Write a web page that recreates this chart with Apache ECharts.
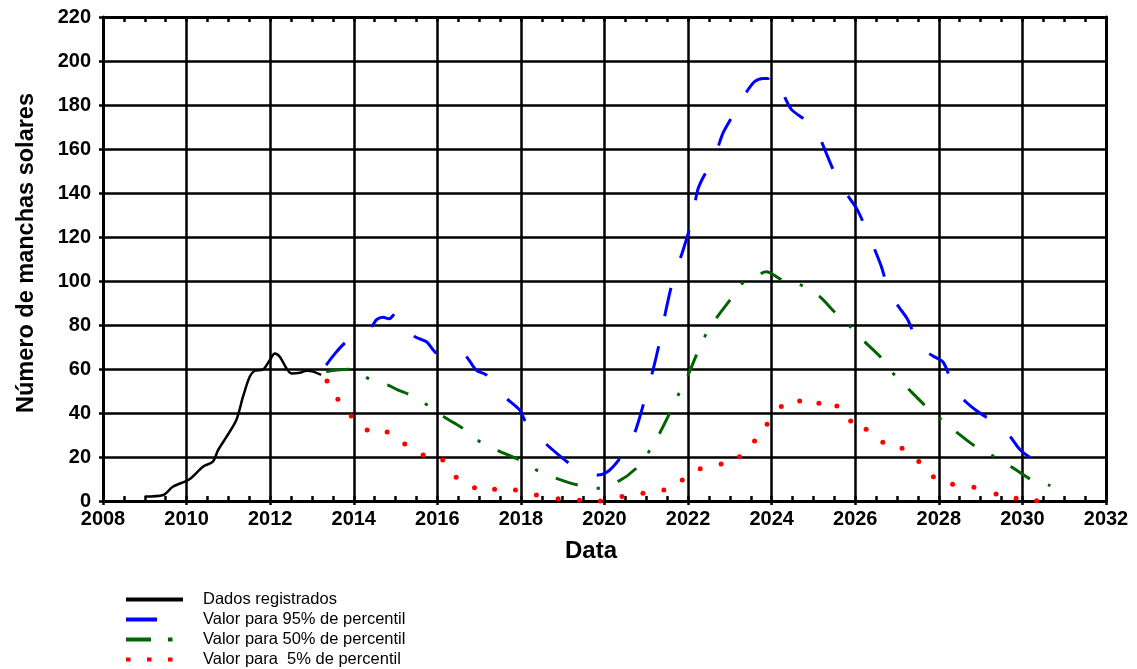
<!DOCTYPE html>
<html>
<head>
<meta charset="utf-8">
<script src="https://cdn.jsdelivr.net/npm/echarts@6/dist/echarts.min.js"></script>
<style>
  html, body { margin: 0; padding: 0; background: #fff; }
  #chart { width: 1137px; height: 669px; }
</style>
</head>
<body>
<div id="chart"></div>
<script>
// Observed smoothed sunspot number (year, value)
const recorded = [
  [2009.0, 2.0], [2009.44, 2.7], [2009.67, 6.5], [2010.07, 9.9], [2010.39, 15.6],
  [2010.63, 17.9], [2010.75, 23], [2010.95, 29], [2011.19, 36.8], [2011.35, 47.4],
  [2011.51, 56.5], [2011.63, 59.2], [2011.83, 59.8], [2011.99, 64], [2012.11, 67.1],
  [2012.23, 65.6], [2012.39, 60.3], [2012.51, 58], [2012.71, 58.3], [2012.87, 59.2],
  [2013.03, 58.8], [2013.22, 57.3]
];

// 95th percentile forecast
const p95 = [
  [2013.34, 61.8], [2013.55, 67], [2013.78, 71.7], [2014.1, 76], [2014.43, 79.5],
  [2014.55, 82.5], [2014.7, 83.5], [2014.85, 82.8], [2015.0, 85.3], [2015.2, 80],
  [2015.46, 74.7], [2015.74, 72.4], [2016.01, 67.1], [2016.3, 67.5], [2016.65, 66.4],
  [2016.93, 59.5], [2017.17, 57.3], [2017.4, 52], [2017.65, 46.7], [2017.97, 41.4],
  [2018.09, 36.8], [2018.35, 31], [2018.61, 25.8], [2018.9, 21], [2019.16, 17.1],
  [2019.5, 13.5], [2019.84, 11.8], [2020.12, 14], [2020.4, 20.1], [2020.6, 26],
  [2020.76, 33], [2020.96, 45.9], [2021.16, 59.5], [2021.32, 72.4], [2021.48, 87.6],
  [2021.64, 100.5], [2021.88, 114], [2022.08, 127], [2022.23, 141.4], [2022.35, 146.7],
  [2022.55, 153.5], [2022.7, 160], [2022.83, 167], [2023.03, 174], [2023.15, 179.2],
  [2023.4, 186], [2023.59, 190.6], [2023.79, 192.1], [2023.91, 192.1], [2024.0, 194],
  [2024.11, 190.1], [2024.3, 184], [2024.47, 178], [2024.75, 174], [2025.03, 170.1],
  [2025.2, 163], [2025.34, 156.5], [2025.62, 144.4], [2025.85, 138], [2026.06, 132],
  [2026.34, 120], [2026.62, 106.8], [2026.82, 94.4], [2027.05, 88], [2027.26, 82.3],
  [2027.54, 70.1], [2027.85, 66], [2028.11, 62.9], [2028.38, 50.5], [2028.65, 45],
  [2028.88, 41.4], [2029.15, 38], [2029.45, 35.3], [2029.72, 29], [2029.95, 23.2],
  [2030.25, 19], [2030.53, 16.4]
];

// 50th percentile forecast
const p50 = [
  [2013.34, 58.8], [2013.6, 59.5], [2013.9, 59.9], [2014.34, 55.8], [2014.82, 52.7],
  [2015.05, 50.5], [2015.3, 48.6], [2015.74, 43.9], [2016.13, 38.6], [2016.4, 35.5],
  [2016.61, 33], [2016.99, 27.3], [2017.45, 22.9], [2017.97, 18.6], [2018.37, 14.1],
  [2018.85, 10.3], [2019.36, 7.3], [2019.86, 5.8], [2020.32, 8.8], [2020.76, 14.9],
  [2021.06, 22.4], [2021.32, 30.8], [2021.56, 39.9], [2021.78, 48.8], [2022.0, 57.3],
  [2022.21, 66.8], [2022.42, 75.5], [2022.69, 83.5], [2023.02, 91.8], [2023.31, 99.2],
  [2023.75, 103.5], [2023.87, 104.2], [2024.25, 100.5], [2024.72, 98], [2025.15, 92.9],
  [2025.5, 86], [2025.88, 79.2], [2026.24, 72.1], [2026.61, 65.3], [2026.92, 57.7],
  [2027.28, 50.8], [2027.66, 43.6], [2028.04, 37.3], [2028.43, 31.2], [2028.85, 25.1],
  [2029.29, 20.5], [2029.73, 15.6], [2030.19, 10], [2030.67, 7]
];

// 5th percentile forecast
const p5 = [
  [2013.36, 54.5], [2013.62, 46.2], [2013.94, 38.6], [2014.32, 32.3], [2014.8, 31.4],
  [2015.22, 25.9], [2015.66, 20.9], [2016.13, 18.6], [2016.45, 10.8], [2016.89, 6],
  [2017.37, 5.3], [2017.87, 5], [2018.37, 2.7], [2018.89, 1], [2019.4, 0.3],
  [2019.9, 0], [2020.42, 2], [2020.92, 3.5], [2021.42, 5], [2021.86, 9.5],
  [2022.29, 14.7], [2022.79, 16.8], [2023.23, 20.1], [2023.59, 27.3], [2023.89, 34.9],
  [2024.23, 42.9], [2024.67, 45.5], [2025.13, 44.4], [2025.56, 43.2], [2025.89, 36.4],
  [2026.26, 32.6], [2026.66, 26.7], [2027.12, 24], [2027.52, 17.9], [2027.87, 11],
  [2028.33, 7.6], [2028.84, 6.2], [2029.37, 3.2], [2029.85, 1.2], [2030.34, 0.1]
];

const seriesNames = [
  'Dados registrados',
  'Valor para 95% de percentil',
  'Valor para 50% de percentil',
  'Valor para  5% de percentil'
];
const xTitle = 'Data';
const yTitle = 'Número de manchas solares';

const FONT = '"Liberation Sans", Arial, sans-serif';
const BLACK = '#000000';

// Legend swatches: 72 units wide so the label starts after a blank margin
const legendIcons = [
  'path://M0,0H57V4H0Z M72,0V4',
  'path://M0,0H31V4H0Z M72,0V4',
  'path://M0,0H25V4H0Z M42,0H46.5V4H42Z M72,0V4',
  'path://M0,0H4.5V4H0Z M21,0H25.5V4H21Z M42,0H46.5V4H42Z M72,0V4'
];

const plainNumber = v => String(v);

const chart = echarts.init(document.getElementById('chart'), null, { renderer: 'canvas' });

chart.setOption({
  animation: false,
  backgroundColor: '#ffffff',
  grid: { left: 103, right: 31, top: 17, bottom: 168, containLabel: false },
  legend: {
    orient: 'vertical',
    left: 126,
    top: 591,
    width: 400,
    height: 120,
    padding: 0,
    itemWidth: 72,
    itemHeight: 4,
    itemGap: 3,
    selectedMode: false,
    itemStyle: { borderWidth: 0 },
    textStyle: { fontFamily: FONT, fontSize: 16.5, color: BLACK, lineHeight: 16 },
    data: seriesNames.map((n, i) => ({ name: n, icon: legendIcons[i] }))
  },
  xAxis: [
    {
      type: 'value', position: 'bottom', min: 2008, max: 2032, interval: 2,
      name: xTitle, nameLocation: 'middle', nameGap: 38,
      nameTextStyle: { fontFamily: FONT, fontSize: 24, fontWeight: 'bold', color: BLACK, padding: [0, 27, 0, 0] },
      axisLine: { show: true, onZero: false, lineStyle: { color: BLACK, width: 3 } },
      axisTick: { show: true, inside: false, length: 4, lineStyle: { color: BLACK, width: 2.5 } },
      axisLabel: { margin: 8, fontFamily: FONT, fontSize: 20, fontWeight: 'bold', color: BLACK, formatter: plainNumber },
      splitLine: { show: true, lineStyle: { color: BLACK, width: 2.5 } }
    },
    {
      // half-year ticks pointing into the plot along the bottom edge
      type: 'value', position: 'bottom', min: 2008, max: 2032, interval: 0.5,
      axisLine: { show: false, onZero: false },
      axisTick: { show: true, inside: true, length: 5, lineStyle: { color: BLACK, width: 2.5 } },
      axisLabel: { show: false },
      splitLine: { show: false }
    },
    {
      // top frame with half-year ticks
      type: 'value', position: 'top', min: 2008, max: 2032, interval: 0.5,
      axisLine: { show: true, onZero: false, lineStyle: { color: BLACK, width: 3 } },
      axisTick: { show: true, inside: true, length: 5, lineStyle: { color: BLACK, width: 2.5 } },
      axisLabel: { show: false },
      splitLine: { show: false }
    }
  ],
  yAxis: [
    {
      type: 'value', position: 'left', min: 0, max: 220, interval: 20,
      name: yTitle, nameLocation: 'middle', nameRotate: 90, nameGap: 64,
      nameTextStyle: { fontFamily: FONT, fontSize: 23.5, fontWeight: 'bold', color: BLACK, padding: [0, 0, 0, 12] },
      axisLine: { show: true, onZero: false, lineStyle: { color: BLACK, width: 3 } },
      axisTick: { show: true, inside: false, length: 4, lineStyle: { color: BLACK, width: 2.5 } },
      axisLabel: { margin: 12, fontFamily: FONT, fontSize: 20, fontWeight: 'bold', color: BLACK, formatter: plainNumber },
      splitLine: { show: true, lineStyle: { color: BLACK, width: 2.5 } }
    },
    {
      // right frame
      type: 'value', position: 'right', min: 0, max: 220, interval: 20,
      axisLine: { show: true, onZero: false, lineStyle: { color: BLACK, width: 3 } },
      axisTick: { show: false },
      axisLabel: { show: false },
      splitLine: { show: false }
    }
  ],
  series: [
    {
      name: seriesNames[0], type: 'line', xAxisIndex: 0, yAxisIndex: 0,
      data: recorded, smooth: 0.3, showSymbol: false, symbol: 'none',
      lineStyle: { color: BLACK, width: 2.5 }, itemStyle: { color: BLACK }, z: 5
    },
    {
      name: seriesNames[1], type: 'line', xAxisIndex: 0, yAxisIndex: 0,
      data: p95, smooth: 0.3, showSymbol: false, symbol: 'none',
      lineStyle: { color: '#0000ff', width: 3, type: [29, 31], cap: 'butt' },
      itemStyle: { color: '#0000ff' }, z: 4
    },
    {
      name: seriesNames[2], type: 'line', xAxisIndex: 0, yAxisIndex: 0,
      data: p50, smooth: 0.3, showSymbol: false, symbol: 'none',
      lineStyle: { color: '#006400', width: 3, type: [23, 19, 3.5, 19], cap: 'butt' },
      itemStyle: { color: '#006400' }, z: 4
    },
    {
      name: seriesNames[3], type: 'scatter', xAxisIndex: 0, yAxisIndex: 0,
      data: p5, symbol: 'circle', symbolSize: 5,
      itemStyle: { color: '#ff0000', opacity: 1 }, z: 4
    }
  ]
});
</script>
</body>
</html>
